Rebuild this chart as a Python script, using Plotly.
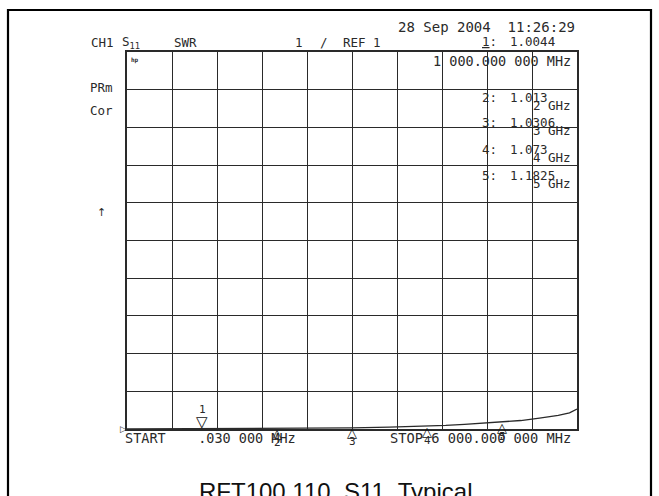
import plotly.graph_objects as go

# ---------------- data ----------------
freq_ghz = [0.00003, 0.5, 1.0, 1.5, 2.0, 2.5, 3.0, 3.5, 4.0, 4.25, 4.5, 4.75, 5.0, 5.25, 5.5, 5.75, 5.9, 6.0]
swr      = [1.0, 1.002, 1.0044, 1.008, 1.013, 1.02, 1.0306, 1.048, 1.073, 1.095, 1.125, 1.155, 1.1825, 1.225, 1.29, 1.36, 1.43, 1.53]

marker_ids   = ["1", "2", "3", "4", "5"]
marker_freq  = [1.0, 2.0, 3.0, 4.0, 5.0]
marker_swr   = [1.0044, 1.013, 1.0306, 1.073, 1.1825]
marker_text  = ["1.0044", "1.013", "1.0306", "1.073", "1.1825"]

x_start, x_stop = 0.00003, 6.0
y_ref, y_per_div, n_div = 1.0, 1.0, 10

# ---------------- layout geometry ----------------
W, H = 659, 496
L, R, T, B = 127, 577, 52, 429

def px(x, y):
    return (x - L) / (R - L), (B - y) / (B - T)

MONO = "DejaVu Sans Mono, Liberation Mono, monospace"
INK = "#2a2a2a"

fig = go.Figure()
fig.add_trace(go.Scatter(x=freq_ghz, y=swr, mode="lines",
                         line=dict(color=INK, width=1.3), cliponaxis=False,
                         hoverinfo="skip", showlegend=False))

ann = []
def txt(x, y, s, size=12.5, anchor="left", font=MONO, color=INK):
    xp, yp = px(x, y)
    ann.append(dict(x=xp, y=yp, xref="paper", yref="paper", text=s, showarrow=False,
                    xanchor=anchor, yanchor="middle", font=dict(family=font, size=size, color=color)))

# header
txt(89, 43, "CH1")
txt(120, 43, "S<sub>11</sub>")
txt(172, 43, "SWR")
txt(293, 43, "1")
txt(318, 43, "/")
txt(341, 43, "REF 1")
txt(396, 27, "28 Sep 2004  11:26:29", size=14)
txt(480, 42, "<u>1</u>:")
txt(508, 42, marker_text[0])
txt(431, 61, "1 000.000 000 MHz", size=13.5)
txt(88, 87, "PRm")
txt(88, 110, "Cor")
txt(101, 212, "↑", size=11, anchor="center", font="DejaVu Sans")
txt(129, 60, "<b>hp</b>", size=6)

# marker readouts (right side)
row_y = [97, 122, 149, 175]
for mid, val, yy in zip(marker_ids[1:], marker_text[1:], row_y):
    txt(480, yy, mid + ":")
    txt(508, yy, val)
    txt(531, yy + 8.5, mid + " GHz")

# bottom line
txt(123, 438, "START    .030 000 MHz", size=13.5)
txt(388, 438, "STOP 6 000.000 000 MHz", size=13.7)

# reference position marker
ann.append(dict(x=x_start, y=y_ref, xref="x", yref="y", text="▷", showarrow=False,
                xanchor="right", yanchor="middle", xshift=2,
                font=dict(family="DejaVu Sans", size=9, color=INK)))

# trace markers
for i, (mid, f, v) in enumerate(zip(marker_ids, marker_freq, marker_swr)):
    if i == 0:
        ann.append(dict(x=f, y=v, xref="x", yref="y", text="▽", showarrow=False,
                        yshift=7, font=dict(family="DejaVu Sans", size=15, color="#111")))
        ann.append(dict(x=f, y=v, xref="x", yref="y", text="1", showarrow=False,
                        yshift=19, font=dict(family=MONO, size=11, color=INK)))
    else:
        ann.append(dict(x=f, y=v, xref="x", yref="y", text="△", showarrow=False,
                        yshift=-5, font=dict(family="DejaVu Sans", size=13, color="#111")))
        ann.append(dict(x=f, y=v, xref="x", yref="y", text=mid, showarrow=False,
                        yshift=-14, font=dict(family=MONO, size=11, color=INK)))

# caption
cx, cy = px(335, 476)
ann.append(dict(x=cx, y=cy, xref="paper", yref="paper", text="RFT100 110, S11, Typical",
                showarrow=False, xanchor="center", yanchor="top",
                font=dict(family="Liberation Sans, Arial", size=24, color="#111")))

# outer frame
fx0, fy0 = px(8, 10)
fx1, fy1 = px(651, 520)
shapes = [dict(type="rect", xref="paper", yref="paper", x0=fx0, y0=fy1, x1=fx1, y1=fy0,
               line=dict(color="#000", width=2.2), layer="below")]

fig.update_layout(
    width=W, height=H,
    margin=dict(l=L, r=W - R, t=T, b=H - B, pad=0),
    paper_bgcolor="white", plot_bgcolor="white",
    annotations=ann, shapes=shapes, showlegend=False,
    xaxis=dict(range=[x_start, x_stop], tickmode="linear", tick0=x_start,
               dtick=(x_stop - x_start) / n_div, showticklabels=False, ticks="",
               showgrid=True, gridcolor=INK, gridwidth=1.3, zeroline=False,
               showline=True, linecolor=INK, linewidth=1.5, mirror=True, fixedrange=True),
    yaxis=dict(range=[y_ref, y_ref + n_div * y_per_div], tickmode="linear", tick0=y_ref,
               dtick=y_per_div, showticklabels=False, ticks="",
               showgrid=True, gridcolor=INK, gridwidth=1.3, zeroline=False,
               showline=True, linecolor=INK, linewidth=1.5, mirror=True, fixedrange=True),
)

fig.write_html("out.html", config={"displayModeBar": False},
               post_script="document.body.style.margin='0';document.body.style.overflow='hidden';")
